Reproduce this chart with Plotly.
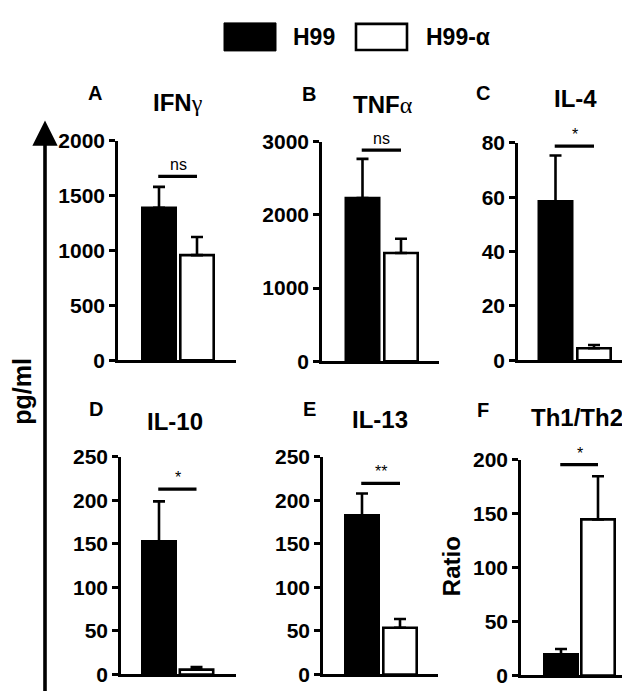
import plotly.graph_objects as go

# ---------------- data ----------------
panel_letters = ["A", "B", "C", "D", "E", "F"]
panel_titles = ["<b>IFN</b><span style=\"font-family:'Liberation Serif'\">γ</span>",
                "<b>TNF</b><span style=\"font-family:'Liberation Serif'\">α</span>",
                "<b>IL-4</b>", "<b>IL-10</b>", "<b>IL-13</b>", "<b>Th1/Th2</b>"]
groups = ["H99", "H99-α"]
h99_mean = [1390, 2230, 58.5, 153, 183, 19.5]
h99_err = [190, 537, 16.8, 46, 25, 5]
alpha_mean = [958, 1480, 4.4, 5.6, 53.7, 144.8]
alpha_err = [166, 194, 1.2, 2.9, 10, 40]
y_max = [2000, 3000, 80, 250, 250, 200]
y_dtick = [500, 1000, 20, 50, 50, 50]
sig_y = [1676, 2885, 78.8, 213, 219.6, 195.5]
sig_text = ["ns", "ns", "*", "*", "**", "*"]

# ---------------- layout geometry (pixels) ----------------
W, H = 630, 691
# axis left px, axis right px, bar centers px
geom_x = [(110, 228, 151, 189), (314, 431, 354.5, 393), (510, 622, 547.5, 586),
          (113, 228, 151, 188.5), (315, 430, 354, 392), (513, 622, 553, 590)]
# top px (max), bottom px (0)
geom_y = [(125, 352), (126, 353), (127, 352), (452, 677), (452, 677), (455, 678)]
letter_pos = [(87, 76), (301, 77), (475, 75), (88, 402), (301, 402), (475, 403)]
title_pos = [(170, 85), (375, 87), (567, 81), (167, 415), (372, 413), (569, 411)]

FONT = "Arial, Liberation Sans, sans-serif"
LW = 2.6

def px(x):
    return x / W

def py(y):
    return 1 - y / H

fig = go.Figure()
annotations = []
shapes = []
layout = {}

for i in range(6):
    k = "" if i == 0 else str(i + 1)
    x0, x1, c0, c1 = geom_x[i]
    sp = c1 - c0
    rlo = -(c0 - x0) / sp
    rhi = 1 + (x1 - c1) / sp
    bw = (36 - LW) / sp
    top, bot = geom_y[i]

    fig.add_trace(go.Bar(
        x=[0, 1], y=[h99_mean[i], alpha_mean[i]],
        width=[bw, bw],
        marker=dict(color=["black", "white"], line=dict(color="black", width=LW)),
        error_y=dict(type="data", symmetric=False, array=[h99_err[i], alpha_err[i]],
                     arrayminus=[0, 0], color="black", thickness=LW, width=6),
        xaxis="x" + k, yaxis="y" + k, showlegend=False,
        name=panel_letters[i], hoverinfo="y",
    ))

    layout["xaxis" + k] = dict(
        domain=[px(x0), px(x1)], range=[rlo, rhi], anchor="y" + k,
        showline=True, linecolor="black", linewidth=LW, showgrid=False,
        zeroline=False, showticklabels=False, ticks="", fixedrange=True,
    )
    layout["yaxis" + k] = dict(
        domain=[py(bot), py(top)], range=[0, y_max[i]], anchor="x" + k,
        showline=True, linecolor="black", linewidth=LW, showgrid=False,
        zeroline=False, ticks="outside", ticklen=6, tickwidth=LW, tickcolor="black",
        tick0=0, dtick=y_dtick[i],
        tickfont=dict(family=FONT, size=21, color="black", weight="bold"),
        fixedrange=True,
    )

    # significance line and label
    shapes.append(dict(type="line", xref="x" + k, yref="y" + k,
                       x0=-0.02, x1=1.0, y0=sig_y[i], y1=sig_y[i],
                       line=dict(color="black", width=3.2)))
    annotations.append(dict(text=sig_text[i], xref="x" + k, yref="y" + k,
                            x=0.5, y=sig_y[i], yanchor="bottom", yshift=1,
                            showarrow=False,
                            font=dict(family=FONT, size=16, color="black")))

    # panel letter and title
    lx, ly = letter_pos[i]
    annotations.append(dict(text="<b>" + panel_letters[i] + "</b>", xref="paper", yref="paper",
                            x=px(lx), y=py(ly), xanchor="center", yanchor="middle",
                            showarrow=False,
                            font=dict(family=FONT, size=20, color="black")))
    tx, ty = title_pos[i]
    annotations.append(dict(text=panel_titles[i], xref="paper", yref="paper",
                            x=px(tx), y=py(ty), xanchor="center", yanchor="middle",
                            showarrow=False,
                            font=dict(family=FONT, size=24, color="black")))

# Ratio label for panel F
annotations.append(dict(text="<b>Ratio</b>", xref="paper", yref="paper",
                        x=px(443), y=py(565), textangle=-90, showarrow=False,
                        xanchor="center", yanchor="middle",
                        font=dict(family=FONT, size=24, color="black")))

# big pg/ml arrow
annotations.append(dict(text="", xref="paper", yref="paper",
                        x=px(37), y=py(104), ax=0, ay=683 - 104,
                        axref="pixel", ayref="pixel",
                        showarrow=True, arrowhead=2, arrowsize=1.4, arrowwidth=3.6,
                        arrowcolor="black"))
annotations.append(dict(text="<b>pg/ml</b>", xref="paper", yref="paper",
                        x=px(14.5), y=py(384), textangle=-90, showarrow=False,
                        xanchor="center", yanchor="middle",
                        font=dict(family=FONT, size=25, color="black")))

# legend (drawn)
shapes.append(dict(type="rect", xref="paper", yref="paper",
                   x0=px(216), x1=px(268), y0=py(32), y1=py(3),
                   fillcolor="black", line=dict(color="black", width=1)))
shapes.append(dict(type="rect", xref="paper", yref="paper",
                   x0=px(348), x1=px(399), y0=py(31), y1=py(4),
                   fillcolor="white", line=dict(color="black", width=2.6)))
annotations.append(dict(text="<b>" + groups[0] + "</b>", xref="paper", yref="paper",
                        x=px(306), y=py(18), xanchor="center", yanchor="middle",
                        showarrow=False, font=dict(family=FONT, size=23, color="black")))
annotations.append(dict(text="<b>" + groups[1] + "</b>", xref="paper", yref="paper",
                        x=px(450), y=py(18), xanchor="center", yanchor="middle",
                        showarrow=False, font=dict(family=FONT, size=23, color="black")))

fig.update_layout(
    width=W, height=H, margin=dict(l=0, r=0, t=0, b=0),
    paper_bgcolor="white", plot_bgcolor="white",
    barmode="overlay", showlegend=False,
    annotations=annotations, shapes=shapes,
    font=dict(family=FONT, color="black"),
    **layout,
)

fig.write_html("out.html")
